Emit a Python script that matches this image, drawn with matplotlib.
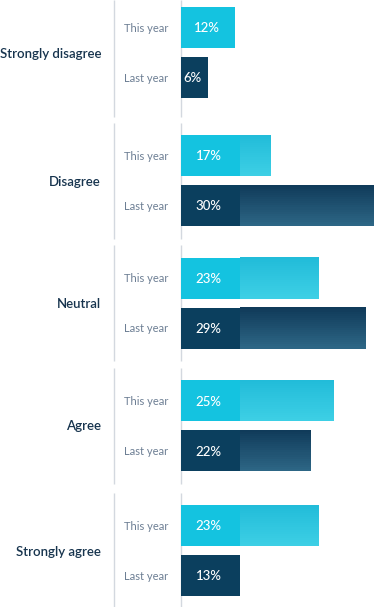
import matplotlib
matplotlib.use('Agg')
import matplotlib.pyplot as plt
import numpy as np
from matplotlib.colors import to_rgb

# Survey answers
categories = ['Strongly disagree', 'Disagree', 'Neutral', 'Agree', 'Strongly agree']
series_names = ['This year', 'Last year']
this_year = [12, 17, 23, 25, 23]
last_year = [6, 30, 29, 22, 13]

W, H = 388, 607
DPI = 100

plt.rcParams['font.family'] = ['Lato', 'DejaVu Sans']

# bars are solid up to this value, textured beyond it
SPLIT = 13


def forward(v):
    v = np.asarray(v, dtype=float)
    return np.where(v <= SPLIT, 4.5 * v, 4.5 * SPLIT + 7.9 * (v - SPLIT))


def inverse(p):
    p = np.asarray(p, dtype=float)
    return np.where(p <= 4.5 * SPLIT, p / 4.5, SPLIT + (p - 4.5 * SPLIT) / 7.9)


fig = plt.figure(figsize=(W / DPI, H / DPI), dpi=DPI)
fig.patch.set_facecolor('white')

# full-figure axes in pixel units for labels and separators
base = fig.add_axes([0, 0, 1, 1])
base.set_xlim(0, W)
base.set_ylim(H, 0)
base.axis('off')

# bar axes
bar_left = 181
ax = fig.add_axes([bar_left / W, 0, (W - bar_left) / W, 1])
ax.set_xscale('function', functions=(forward, inverse))
ax.set_xlim(0, float(inverse(W - bar_left)))
ax.set_ylim(H, 0)
ax.axis('off')

cyan = '#14c3e0'
navy = '#0b3f5e'
grad = {
    'This year': ('#22bcd9', '#3dcfe5'),
    'Last year': ('#103b5a', '#2d6685'),
}
solid = {'This year': cyan, 'Last year': navy}

# vertical centre of each group, in pixels
group_c = [52.5, 180.5, 303, 425.5, 550.5]
bar_h = 41
offsets = {'This year': -25, 'Last year': 25}


def gradient_bar(y, x0, x1, c_top, c_bot, n=20):
    top = y - bar_h / 2
    hs = bar_h / n
    ct, cb = np.array(to_rgb(c_top)), np.array(to_rgb(c_bot))
    for k in range(n):
        col = ct + (cb - ct) * k / (n - 1)
        ax.barh(top + hs * (k + 0.5), x1 - x0, left=x0, height=hs * 1.05,
                color=col, linewidth=0)


for i, cat in enumerate(categories):
    c = group_c[i]
    for name, vals in zip(series_names, [this_year, last_year]):
        v = vals[i]
        y = c + offsets[name]
        ax.barh(y, min(v, SPLIT), height=bar_h, color=solid[name], linewidth=0)
        if v > SPLIT:
            gradient_bar(y, SPLIT, v, *grad[name])
        xm = float(inverse(forward(min(v, SPLIT)) / 2 - 1.5))
        ax.text(xm, y + 1, f'{v}%', ha='center', va='center', color='white',
                fontsize=9.5, fontweight='medium')
        base.text(168, y + 1, name, ha='right', va='center', color='#6d7f94',
                  fontsize=8)
    base.text(101, c + 1, cat, ha='right', va='center', color='#17344e',
              fontsize=9.5, fontweight='semibold')
    top = 0 if i == 0 else c - 58
    bot = H if i == len(categories) - 1 else c + 58
    if i == 0:
        bot = 117
    for xl in (113.5, 180.5):
        base.plot([xl, xl], [top, bot], color='#d3d8df', linewidth=1,
                  solid_capstyle='butt')

fig.savefig('out.png', dpi=DPI, facecolor='white')
plt.close(fig)
